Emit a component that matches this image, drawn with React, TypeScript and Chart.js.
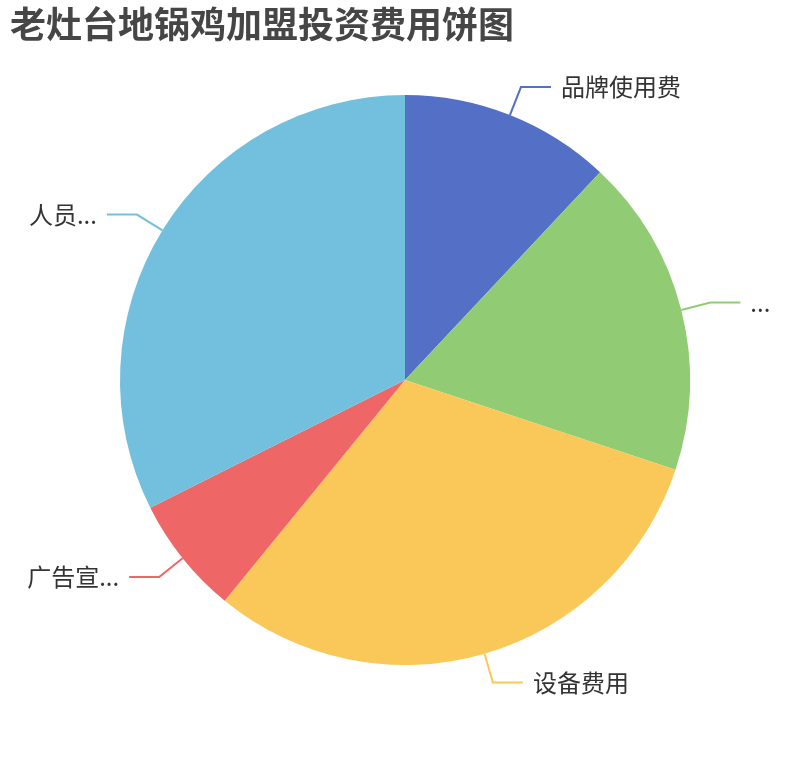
import React, { useEffect, useRef } from "react";
import { Chart, registerables } from "chart.js";

Chart.register(...registerables);

const titleText = "老灶台地锅鸡加盟投资费用饼图";
const categories = ["品牌使用费", "装修费用", "设备费用", "广告宣传费", "人员工资"];
const displayLabels = ["品牌使用费", "...", "设备费用", "广告宣...", "人员..."];
const values = [12.0, 18.1, 30.8, 6.7, 32.4];
const colors = ["#5470c6", "#91cc75", "#fac858", "#ee6666", "#73c0de"];

const FONT = '"Noto Sans CJK SC", "Noto Sans", sans-serif';

const labelPlugin = {
  id: "pieLabels",
  afterDraw(chart: any) {
    const ctx = chart.ctx;
    const meta = chart.getDatasetMeta(0);
    ctx.save();
    meta.data.forEach((arc: any, i: number) => {
      const { x, y, startAngle, endAngle, outerRadius } = arc.getProps(
        ["x", "y", "startAngle", "endAngle", "outerRadius"],
        true
      );
      const mid = (startAngle + endAngle) / 2;
      const cos = Math.cos(mid);
      const sin = Math.sin(mid);
      const p0x = x + cos * outerRadius;
      const p0y = y + sin * outerRadius;
      const p1x = x + cos * (outerRadius + 30);
      const p1y = y + sin * (outerRadius + 30);
      const dir = cos >= 0 ? 1 : -1;
      const p2x = p1x + dir * 30;
      const p2y = p1y;
      ctx.strokeStyle = colors[i];
      ctx.lineWidth = 2;
      ctx.beginPath();
      ctx.moveTo(p0x, p0y);
      ctx.lineTo(p1x, p1y);
      ctx.lineTo(p2x, p2y);
      ctx.stroke();
      ctx.fillStyle = "#333333";
      ctx.font = `24px ${FONT}`;
      ctx.textBaseline = "middle";
      ctx.textAlign = dir > 0 ? "left" : "right";
      ctx.fillText(displayLabels[i], p2x + dir * 10, p2y);
    });
    ctx.fillStyle = "#464646";
    ctx.font = `bold 36px ${FONT}`;
    ctx.textBaseline = "top";
    ctx.textAlign = "left";
    ctx.fillText(titleText, 10, 6);
    ctx.restore();
  },
};

export default function App() {
  const ref = useRef<HTMLCanvasElement | null>(null);
  useEffect(() => {
    if (!ref.current) return;
    const chart = new Chart(ref.current, {
      type: "pie",
      data: {
        labels: categories,
        datasets: [
          {
            data: values,
            backgroundColor: colors,
            borderWidth: 0,
          },
        ],
      },
      options: {
        animation: false,
        responsive: false,
        maintainAspectRatio: false,
        layout: { padding: { top: 95, bottom: 95, left: 120, right: 120 } },
        plugins: {
          legend: { display: false },
          tooltip: { enabled: false },
          title: { display: false },
        },
      },
      plugins: [labelPlugin],
    });
    return () => chart.destroy();
  }, []);
  return (
    <div style={{ position: "fixed", left: 0, top: 0, width: 810, height: 760, background: "#fff" }}>
      <canvas ref={ref} width={810} height={760} style={{ width: 810, height: 760 }} />
    </div>
  );
}
